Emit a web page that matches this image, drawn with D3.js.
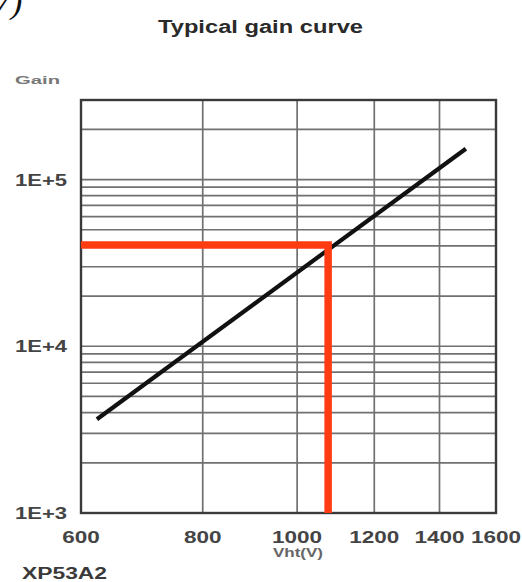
<!DOCTYPE html>
<html>
<head>
<meta charset="utf-8">
<script src="https://cdn.jsdelivr.net/npm/d3@7"></script>
<style>
  body { margin: 0; background: #fff; }
  text { font-family: "Liberation Sans", Arial, sans-serif; }
</style>
</head>
<body>
<div id="chart"></div>
<script>
// gain curve
var voltage = [623, 1490];
var gain = [3650, 153000];

// operating point marked in red
var markVoltage = [1076];
var markGain = [40500];

var xTicks = [600, 800, 1000, 1200, 1400, 1600];
var xTickLabels = ["600", "800", "1000", "1200", "1400", "1600"];
var yTicks = [1e3, 1e4, 1e5];
var yTickLabels = ["1E+3", "1E+4", "1E+5"];

var margin = { left: 81, right: 26, top: 100, bottom: 69 };
var W = 522, H = 582;
var width = W - margin.left - margin.right;
var height = H - margin.top - margin.bottom;

var svg = d3.select("#chart").append("svg")
    .attr("width", W)
    .attr("height", H);

var g = svg.append("g")
    .attr("transform", "translate(" + margin.left + "," + margin.top + ")");

var x = d3.scaleLog().domain([600, 1600]).range([0, width]);
var y = d3.scaleLog().domain([1e3, 3e5]).range([height, 0]);

// horizontal grid (log minor lines)
g.append("g").selectAll("line")
    .data(y.ticks())
    .enter().append("line")
    .attr("x1", 0).attr("x2", width)
    .attr("y1", function (d) { return y(d); })
    .attr("y2", function (d) { return y(d); })
    .style("stroke", "#707070")
    .style("stroke-width", 1.7);

// vertical grid
g.append("g").selectAll("line")
    .data(xTicks.slice(1, -1))
    .enter().append("line")
    .attr("y1", 0).attr("y2", height)
    .attr("x1", function (d) { return x(d); })
    .attr("x2", function (d) { return x(d); })
    .style("stroke", "#707070")
    .style("stroke-width", 1.7);

// frame
g.append("rect")
    .attr("width", width)
    .attr("height", height)
    .style("fill", "none")
    .style("stroke", "#3a3a3a")
    .style("stroke-width", 2.4);

// gain curve
var line = d3.line()
    .x(function (d) { return x(d[0]); })
    .y(function (d) { return y(d[1]); });

g.append("path")
    .datum(d3.zip(voltage, gain))
    .attr("d", line)
    .style("fill", "none")
    .style("stroke", "#111")
    .style("stroke-width", 4.2);

// red marker lines
var mx = x(markVoltage[0]), my = y(markGain[0]);
g.append("path")
    .attr("d", "M0," + my + "H" + mx + "V" + height)
    .style("fill", "none")
    .style("stroke", "#ff3b12")
    .style("stroke-width", 7.5)
    .style("stroke-linejoin", "miter");

// y tick labels
g.append("g").selectAll("text")
    .data(yTicks)
    .enter().append("text")
    .attr("x", -66)
    .attr("y", function (d) { return y(d) + 6; })
    .attr("textLength", 52)
    .attr("lengthAdjust", "spacingAndGlyphs")
    .style("font-size", "16px")
    .style("font-weight", "bold")
    .style("fill", "#444")
    .text(function (d, i) { return yTickLabels[i]; });

// x tick labels
g.append("g").selectAll("text")
    .data(xTicks)
    .enter().append("text")
    .attr("x", function (d) { return x(d); })
    .attr("y", height + 30)
    .attr("text-anchor", "middle")
    .attr("textLength", function (d, i) { return xTickLabels[i].length * 12.5; })
    .attr("lengthAdjust", "spacingAndGlyphs")
    .style("font-size", "16px")
    .style("font-weight", "bold")
    .style("fill", "#444")
    .text(function (d, i) { return xTickLabels[i]; });

// x axis title
svg.append("text")
    .attr("x", 298)
    .attr("y", 557)
    .attr("text-anchor", "middle")
    .attr("textLength", 50)
    .attr("lengthAdjust", "spacingAndGlyphs")
    .style("font-size", "12px")
    .style("font-weight", "bold")
    .style("fill", "#666")
    .text("Vht(V)");

// y axis title
svg.append("text")
    .attr("x", 15)
    .attr("y", 84)
    .attr("textLength", 45)
    .attr("lengthAdjust", "spacingAndGlyphs")
    .style("font-size", "11px")
    .style("font-weight", "bold")
    .style("fill", "#777")
    .text("Gain");

// chart title
svg.append("text")
    .attr("x", 158)
    .attr("y", 33)
    .attr("textLength", 205)
    .attr("lengthAdjust", "spacingAndGlyphs")
    .style("font-size", "18px")
    .style("font-weight", "bold")
    .style("fill", "#2a2a2a")
    .text("Typical gain curve");

// model name
svg.append("text")
    .attr("x", 22)
    .attr("y", 579)
    .attr("textLength", 85)
    .attr("lengthAdjust", "spacingAndGlyphs")
    .style("font-size", "16px")
    .style("font-weight", "bold")
    .style("fill", "#3a3a3a")
    .text("XP53A2");

// cut-off heading fragment at top-left
svg.append("text")
    .attr("x", -6)
    .attr("y", 13)
    .style("font-family", "'Liberation Serif', serif")
    .style("font-style", "italic")
    .style("font-size", "34px")
    .style("fill", "#111")
    .text("7)");
</script>
</body>
</html>
